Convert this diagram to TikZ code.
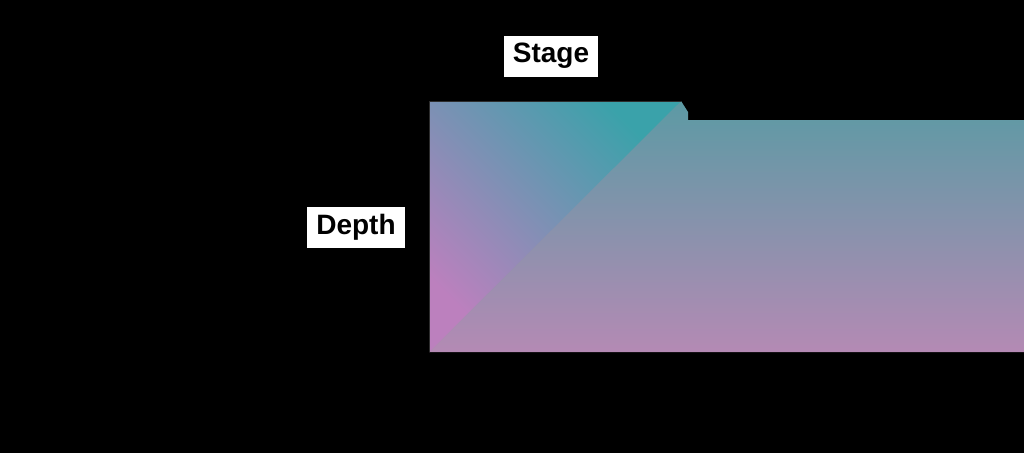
\documentclass[tikz,border=0pt]{standalone}
\usepackage{fontspec}
\setmainfont{Liberation Sans}

\definecolor{plum}{RGB}{188,128,190}
\definecolor{tealish}{RGB}{58,162,170}
\definecolor{topteal}{RGB}{92,154,164}
\definecolor{basepink}{RGB}{180,138,180}

\tikzset{
  labelbox/.style={fill=white, text=black, font=\bfseries\fontsize{28}{30}\selectfont,
    inner xsep=9pt, minimum height=41pt}
}

\begin{document}
\begin{tikzpicture}[x=1pt,y=-1pt]
  % Background
  \fill[black] (0,0) rectangle (1024,453);
  \useasboundingbox (0,0) rectangle (1024,453);

  % Lower band: vertical fade (runs a little under the triangle)
  \shade[top color=topteal, bottom color=basepink]
    (429,352) -- (429,346) -- (676,101) -- (681,101) -- (688,112) -- (688,120)
    -- (1024,120) -- (1024,352) -- cycle;

  % Upper triangle: diagonal fade
  \shade[top color=tealish, bottom color=plum, shading angle=-45]
    (429,352) -- (429,101) -- (681,101) -- cycle;
  \draw[gray!35!black, line width=1pt] (429,352) -- (429,101) -- (681,101);

  % Labels
  \node[labelbox] (stage) at (551,56) {Stage};
  \node[labelbox] (depth) at (356,227) {Depth};
\end{tikzpicture}
\end{document}
